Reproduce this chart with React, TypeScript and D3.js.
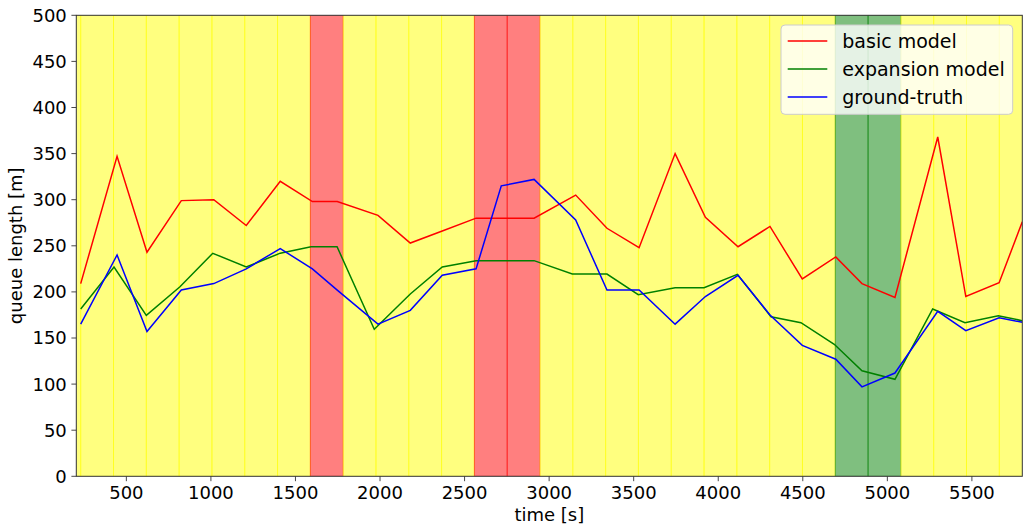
import React from 'react';
import * as d3 from 'd3';

// sample times [s] and queue lengths [m]
const timeModel = [230, 445, 622, 825, 1017, 1209, 1410, 1600, 1747, 1988, 2179, 2368, 2568, 2717, 2911, 3157, 3342, 3532, 3745, 3924, 4117, 4306, 4497, 4695, 4850, 5045, 5298, 5464, 5661, 5798];
const basicModel = [209, 347, 243, 299, 300, 272, 320, 298, 298, 283, 253, 266, 280, 280, 280, 305, 269, 248, 350, 281, 249, 271, 214, 238, 209, 194, 368, 195, 210, 276];
const groundTruth = [165, 240, 157, 202, 209, 225, 247, 225, 202, 165, 180, 218, 225, 315, 322, 278, 202, 202, 165, 195, 218, 175, 142, 127, 97, 112, 179, 158, 172, 167];

const timeExpansion = [230, 427, 618, 817, 1011, 1209, 1410, 1592, 1746, 1966, 2179, 2368, 2568, 2911, 3137, 3342, 3527, 3745, 3916, 4113, 4312, 4489, 4686, 4850, 5045, 5268, 5459, 5656, 5797];
const expansionModel = [181.5, 227, 174.6, 205.6, 241.9, 227, 242, 249, 249, 159.4, 197.7, 227, 233.9, 233.9, 219.4, 219.4, 197, 204.6, 204.6, 219.1, 173.1, 166.6, 143.2, 114.5, 105.2, 181.5, 166.6, 174.2, 168.8];

// background state intervals
const bandEdges = [36, 230, 424, 618, 812, 1006, 1200, 1394, 1588, 1782, 1976, 2170, 2364, 2558, 2752, 2946, 3140, 3334, 3528, 3722, 3916, 4110, 4304, 4498, 4692, 4886, 5080, 5274, 5468, 5662, 5856];
const bandState = ['y', 'y', 'y', 'y', 'y', 'y', 'y', 'y', 'r', 'y', 'y', 'y', 'y', 'r', 'r', 'y', 'y', 'y', 'y', 'y', 'y', 'y', 'y', 'y', 'g', 'g', 'y', 'y', 'y', 'y'];

const xTicks = [500, 1000, 1500, 2000, 2500, 3000, 3500, 4000, 4500, 5000, 5500];
const yTicks = [0, 50, 100, 150, 200, 250, 300, 350, 400, 450, 500];

const seriesNames = ['basic model', 'expansion model', 'ground-truth'];
const seriesColors = ['#ff0000', '#008000', '#0000ff'];
const stateColors = { y: '#ffff00', r: '#ff0000', g: '#008000' };

const W = 1024;
const H = 527;
const margin = { top: 15.3, right: 1.7, bottom: 50.7, left: 76.3 };
const font = 'DejaVu Sans, sans-serif';

const App = () => {
    const x = d3.scaleLinear().domain([204, 5798]).range([margin.left, W - margin.right]);
    const y = d3.scaleLinear().domain([0, 500]).range([H - margin.bottom, margin.top]);
    const [x0, x1] = x.range();
    const [yb, yt] = y.range();

    const mkLine = (ts) =>
        d3
            .line()
            .x((d, i) => x(ts[i]))
            .y((d) => y(d));

    const lines = [
        { vals: basicModel, ts: timeModel },
        { vals: expansionModel, ts: timeExpansion },
        { vals: groundTruth, ts: timeModel },
    ];

    const legendX = 781;
    const legendY = 25;

    return (
        <div>
            <style>{`body{margin:0}`}</style>
            <svg width={W} height={H} style={{ display: 'block', fontFamily: font }}>
                <defs>
                    <clipPath id="plot">
                        <rect x={x0} y={yt} width={x1 - x0} height={yb - yt} />
                    </clipPath>
                </defs>
                <rect x={x0} y={yt} width={x1 - x0} height={yb - yt} fill="#fff" />
                <g clipPath="url(#plot)">
                    {bandState.map((s, i) => (
                        <rect
                            key={i}
                            x={x(bandEdges[i])}
                            y={yt}
                            width={x(bandEdges[i + 1]) - x(bandEdges[i])}
                            height={yb - yt}
                            fill={stateColors[s]}
                            fillOpacity={0.5}
                            stroke={stateColors[s]}
                            strokeOpacity={0.5}
                            strokeWidth={1}
                        />
                    ))}
                    {lines.map((l, i) => (
                        <path key={i} d={mkLine(l.ts)(l.vals)} fill="none" stroke={seriesColors[i]} strokeWidth={1.5} strokeLinejoin="miter" />
                    ))}
                </g>
                {/* axes frame */}
                <rect x={x0} y={yt} width={x1 - x0} height={yb - yt} fill="none" stroke="#333" strokeWidth={1} />
                {xTicks.map((t) => (
                    <g key={t} transform={`translate(${x(t)},${yb})`}>
                        <line y2={4.9} stroke="#333" strokeWidth={0.9} />
                        <text y={23} textAnchor="middle" fontSize={18} fill="#000">
                            {t}
                        </text>
                    </g>
                ))}
                {yTicks.map((t) => (
                    <g key={t} transform={`translate(${x0},${y(t)})`}>
                        <line x2={-4.9} stroke="#333" strokeWidth={0.9} />
                        <text x={-9.5} dy="0.36em" textAnchor="end" fontSize={18} fill="#000">
                            {t}
                        </text>
                    </g>
                ))}
                <text x={(x0 + x1) / 2} y={521} textAnchor="middle" fontSize={18} fill="#000">
                    time [s]
                </text>
                <text transform={`translate(22,${(yt + yb) / 2}) rotate(-90)`} textAnchor="middle" fontSize={18} fill="#000">
                    queue length [m]
                </text>
                {/* legend */}
                <g transform={`translate(${legendX},${legendY})`}>
                    <rect width={231.7} height={89.3} rx={4} fill="#fff" fillOpacity={0.8} stroke="#ccc" strokeWidth={1} />
                    {seriesNames.map((n, i) => (
                        <g key={n} transform={`translate(0,${16 + i * 28})`}>
                            <line x1={6.7} x2={46.3} stroke={seriesColors[i]} strokeWidth={1.5} />
                            <text x={61.3} dy="0.36em" fontSize={19} fill="#000">
                                {n}
                            </text>
                        </g>
                    ))}
                </g>
            </svg>
        </div>
    );
};

export default App;
